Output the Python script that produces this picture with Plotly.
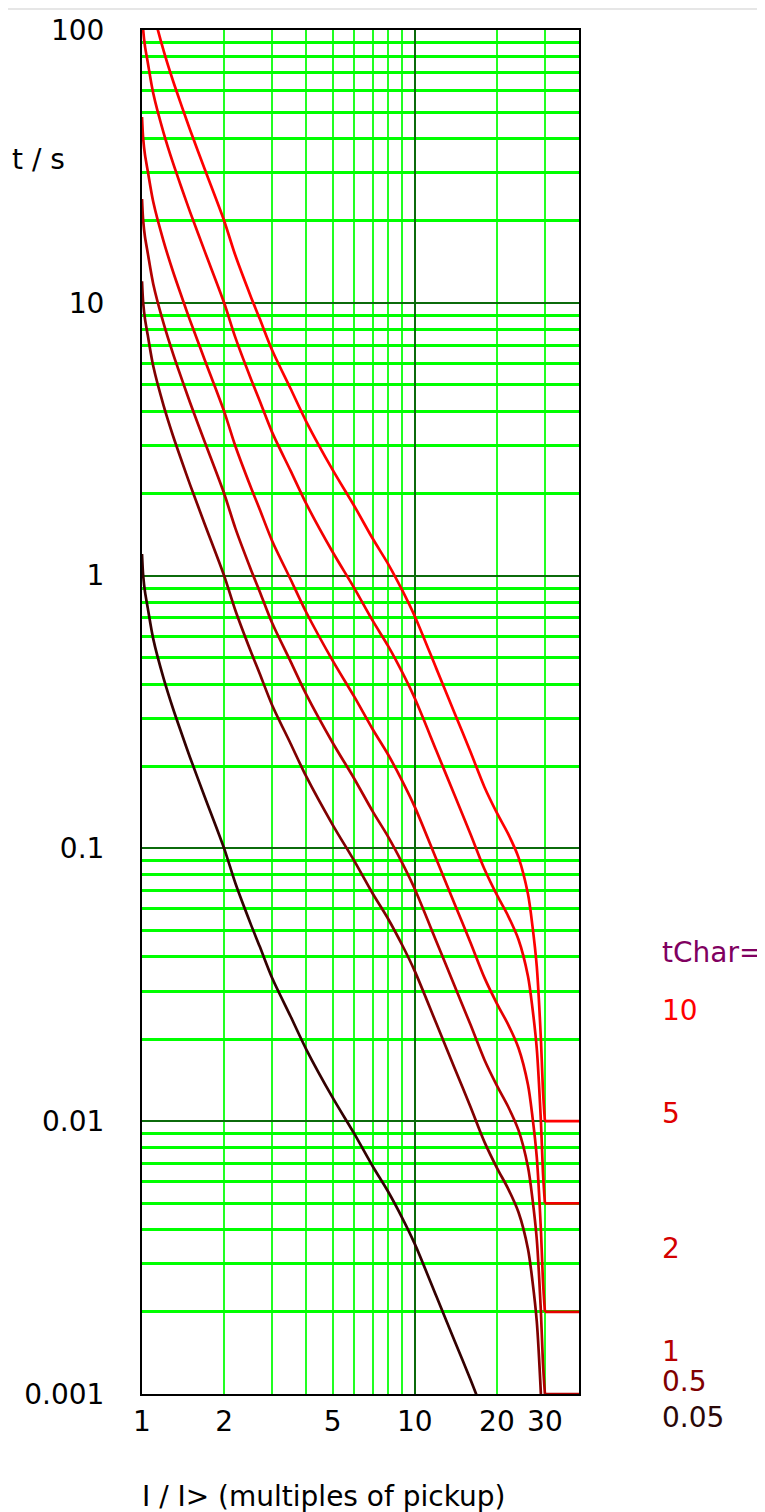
import math
import plotly.graph_objects as go

# ---------------- data ----------------
I_MULT = [1.0, 1.01, 1.025, 1.05, 1.1, 1.2, 1.3, 1.4, 1.5, 1.7, 2.0, 2.2, 2.5, 2.7,
          3.0, 3.5, 4.0, 5.0, 6.0, 7.0, 8.0, 9.0, 10, 12, 14, 16, 18, 20, 22, 24,
          26, 27, 28, 29, 29.5, 30, 40]

T_10 = [240, 200, 175, 152, 117, 84, 65, 52.4, 43.1, 30.8, 20, 14.9, 10.6, 8.75,
        6.7, 4.86, 3.67, 2.44, 1.80, 1.37, 1.10, 0.883, 0.71, 0.456, 0.313, 0.226,
        0.168, 0.135, 0.113, 0.0927, 0.068, 0.052, 0.037, 0.020, 0.013, 0.010, 0.010]
T_5 = [120, 100, 87.5, 76, 58.5, 42, 32.5, 26.2, 21.55, 15.4, 10, 7.45, 5.3, 4.375,
       3.35, 2.43, 1.835, 1.22, 0.90, 0.685, 0.55, 0.4415, 0.355, 0.228, 0.1565,
       0.113, 0.084, 0.0675, 0.0565, 0.04635, 0.034, 0.026, 0.0185, 0.010, 0.0065,
       0.005, 0.005]
T_2 = [48, 40, 35, 30.4, 23.4, 16.8, 13, 10.48, 8.62, 6.16, 4, 2.98, 2.12, 1.75,
       1.34, 0.972, 0.734, 0.488, 0.36, 0.274, 0.22, 0.1766, 0.142, 0.0912, 0.0626,
       0.0452, 0.0336, 0.027, 0.0226, 0.01854, 0.0136, 0.0104, 0.0074, 0.004,
       0.0026, 0.002, 0.002]
T_1 = [24, 20, 17.5, 15.2, 11.7, 8.4, 6.5, 5.24, 4.31, 3.08, 2.0, 1.49, 1.06, 0.875,
       0.67, 0.486, 0.367, 0.244, 0.180, 0.137, 0.110, 0.0883, 0.071, 0.0456,
       0.0313, 0.0226, 0.0168, 0.0135, 0.0113, 0.00927, 0.0068, 0.0052, 0.0037,
       0.0020, 0.0013, 0.001, 0.001]
T_05 = [12, 10, 8.75, 7.6, 5.85, 4.2, 3.25, 2.62, 2.155, 1.54, 1.0, 0.745, 0.53,
        0.4375, 0.335, 0.243, 0.1835, 0.122, 0.09, 0.0685, 0.055, 0.04415, 0.0355,
        0.0228, 0.01565, 0.0113, 0.0084, 0.00675, 0.00565, 0.004635, 0.0034,
        0.0026, 0.00185, 0.001, 0.00065, 0.0005, 0.0005]
T_005 = [1.2, 1.0, 0.875, 0.76, 0.585, 0.42, 0.325, 0.262, 0.2155, 0.154, 0.1,
         0.0745, 0.053, 0.04375, 0.0335, 0.0243, 0.01835, 0.0122, 0.009, 0.00685,
         0.0055, 0.004415, 0.00355, 0.00228, 0.001565, 0.00113, 0.00084, 0.000675,
         0.000565, 0.000464, 0.00034, 0.00026, 0.000185, 0.0001, 0.000065,
         0.00005, 0.00005]

TCHAR_LABELS = ["10", "5", "2", "1", "0.5", "0.05"]
SERIES = [T_10, T_5, T_2, T_1, T_05, T_005]

X_TICKS = [1, 2, 5, 10, 20, 30]
X_TICKTEXT = ["1", "2", "5", "10", "20", "30"]
X_MAJOR_GRID = [1, 10]
X_MINOR_GRID = [2, 3, 4, 5, 6, 7, 8, 9, 20, 30]
Y_TICKS = [0.001, 0.01, 0.1, 1, 10, 100]
Y_TICKTEXT = ["0.001", "0.01", "0.1", "1", "10", "100"]
Y_MINOR_GRID = [m * 10.0 ** e for e in range(-3, 2) for m in range(2, 10)]

# ---------------- styles ----------------
CURVE_COLORS = ["#ff0000", "#f20000", "#e60000", "#b30000", "#800000", "#330000"]
LABEL_COLORS = ["#ff0000", "#e00000", "#d40000", "#b80000", "#800000", "#2a0808"]
LABEL_Y = [0.2815, 0.206, 0.107, 0.0308, 0.0095, -0.0169]
FONT = "DejaVu Sans"
FS = 28
DARK_GRID = "#0b6b0b"
BRIGHT_GRID = "#00ff00"

fig = go.Figure()
for t, c in zip(SERIES, CURVE_COLORS):
    # inverse-time part (smooth)
    fig.add_trace(go.Scatter(x=I_MULT[:-1], y=t[:-1], mode="lines",
                             line=dict(color=c, width=2.7, shape="spline",
                                       smoothing=0.8),
                             hoverinfo="skip"))
    # minimum-time tail (straight)
    fig.add_trace(go.Scatter(x=I_MULT[-2:], y=t[-2:], mode="lines",
                             line=dict(color=c, width=2.7), hoverinfo="skip"))
# empty trace so the label axis exists
fig.add_trace(go.Scatter(x=[], y=[], xaxis="x2", yaxis="y", showlegend=False))

xr = [0, math.log10(40)]
fig.update_layout(
    width=757, height=1504,
    margin=dict(l=134, r=186, t=22, b=118, autoexpand=False),
    paper_bgcolor="white", plot_bgcolor="white",
    showlegend=False,
    font=dict(family=FONT, size=FS, color="black"),
    xaxis=dict(type="log", range=xr, tickmode="array", tickvals=X_MAJOR_GRID,
               showticklabels=False, ticks="", automargin=False,
               showgrid=True, gridcolor=DARK_GRID, gridwidth=2,
               minor=dict(tickmode="array", tickvals=X_MINOR_GRID, showgrid=True,
                          gridcolor="#22ff22", gridwidth=1.5, ticks=""),
               showline=True, mirror=True, linecolor="black", linewidth=2,
               zeroline=False, fixedrange=True),
    xaxis2=dict(type="log", range=xr, overlaying="x", anchor="y", side="bottom",
                tickmode="array", tickvals=X_TICKS, ticktext=X_TICKTEXT,
                showgrid=False, ticks="outside", ticklen=2, automargin=False,
                tickcolor="rgba(0,0,0,0)", showline=False, zeroline=False,
                tickfont=dict(family=FONT, size=FS, color="black")),
    yaxis=dict(type="log", range=[-3, 2], tickmode="array", tickvals=Y_TICKS,
               ticktext=Y_TICKTEXT, showgrid=True, gridcolor=DARK_GRID, gridwidth=2,
               ticks="outside", ticklen=30, tickcolor="rgba(0,0,0,0)",
               automargin=False,
               minor=dict(tickmode="array", tickvals=Y_MINOR_GRID, showgrid=True,
                          gridcolor=BRIGHT_GRID, gridwidth=3, ticks=""),
               showline=True, mirror=True, linecolor="black", linewidth=2,
               zeroline=False, tickfont=dict(family=FONT, size=FS, color="black")),
)

ann = [
    dict(text="t / s", x=-0.236, y=0.9047, xref="paper", yref="paper",
         xanchor="center", yanchor="middle", showarrow=False,
         font=dict(family=FONT, size=FS, color="black")),
    dict(text="I / I&gt; (multiples of pickup)", x=-0.0046, y=-0.0755,
         xref="paper", yref="paper", xanchor="left", yanchor="middle",
         showarrow=False, font=dict(family=FONT, size=FS, color="black")),
    dict(text="tChar=", x=1.185, y=0.324, xref="paper", yref="paper",
         xanchor="left", yanchor="middle", showarrow=False,
         font=dict(family=FONT, size=FS, color="#800060")),
]
for lab, ly, lc in zip(TCHAR_LABELS, LABEL_Y, LABEL_COLORS):
    ann.append(dict(text=lab, x=1.185, y=ly, xref="paper", yref="paper",
                    xanchor="left", yanchor="middle", showarrow=False,
                    font=dict(family=FONT, size=FS, color=lc)))
fig.update_layout(annotations=ann)

fig.add_shape(type="line", xref="paper", yref="paper",
              x0=-134 / 437, x1=623 / 437, y0=1385 / 1364, y1=1385 / 1364,
              line=dict(color="#e6e6e6", width=2))

fig.write_html("out.html")
